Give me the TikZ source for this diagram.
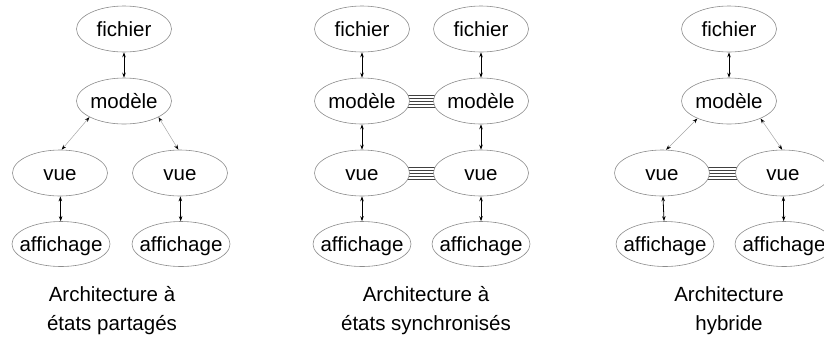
\documentclass[tikz,border=0pt]{standalone}
\usepackage{fontspec}
\setmainfont{Liberation Sans}
\usetikzlibrary{shapes.geometric,arrows.meta,backgrounds}

% word set at the centre of an ellipse whose size is fixed by the style
\newcommand{\word}[1]{\smash{\raisebox{-0.36em}{\makebox[0pt]{#1}}}}

\tikzset{
  comp/.style={ellipse, draw=black!45, line width=0.6pt, fill=white,
    minimum width=95pt, minimum height=46pt, inner sep=0pt,
    font=\fontsize{20.5}{24}\selectfont},
  wide/.style={comp, minimum width=98pt, minimum height=45pt},
  link/.style={{Stealth[length=5pt,width=3.5pt]}-{Stealth[length=5pt,width=3.5pt]},
    line width=0.8pt, black},
  slant/.style={{Stealth[length=5pt,width=3.5pt,black]}-{Stealth[length=5pt,width=3.5pt,black]},
    line width=0.5pt, black!35},
  syncline/.style={line width=0.6pt, black!75},
  caption/.style={align=center, font=\fontsize{20.5}{29}\selectfont}
}

% five parallel lines joining two components
\newcommand{\syncbar}[2]{%
  \begin{scope}[on background layer]
    \foreach \d in {-6,-3,0,3,6}
      \draw[syncline] ([yshift=\d pt]#1.center) -- ([yshift=\d pt]#2.center);
  \end{scope}}

\begin{document}
\begin{tikzpicture}[x=1pt,y=-1pt]
\useasboundingbox (0,0) rectangle (824,341);

% shared-state architecture
\node[comp] (af) at (124,29) {\word{fichier}};
\node[comp] (am) at (124,101) {\word{modèle}};
\node[comp] (av1) at (60,173) {\word{vue}};
\node[comp] (av2) at (180,173) {\word{vue}};
\node[wide] (aa1) at (61,244) {\word{affichage}};
\node[wide] (aa2) at (181,244) {\word{affichage}};
\draw[link] (af) -- (am);
\draw[slant] (am.205) -- (av1.86);
\draw[slant] (am.335) -- (av2.94);
\draw[link] (av1) -- (aa1);
\draw[link] (av2) -- (aa2);
\node[caption] (acap) at (112,311) {Architecture à\\états partagés};

% synchronised-state architecture
\node[comp] (bf1) at (362,29) {\word{fichier}};
\node[comp] (bf2) at (481,29) {\word{fichier}};
\node[comp] (bm1) at (362,101) {\word{modèle}};
\node[comp] (bm2) at (481,101) {\word{modèle}};
\node[comp] (bv1) at (362,173) {\word{vue}};
\node[comp] (bv2) at (481,173) {\word{vue}};
\node[wide] (ba1) at (362,244) {\word{affichage}};
\node[wide] (ba2) at (481,244) {\word{affichage}};
\draw[link] (bf1) -- (bm1);
\draw[link] (bf2) -- (bm2);
\draw[link] (bm1) -- (bv1);
\draw[link] (bm2) -- (bv2);
\draw[link] (bv1) -- (ba1);
\draw[link] (bv2) -- (ba2);
\syncbar{bm1}{bm2}
\syncbar{bv1}{bv2}
\node[caption] (bcap) at (426,311) {Architecture à\\états synchronisés};

% hybrid architecture
\node[comp] (cf) at (729,29) {\word{fichier}};
\node[comp] (cm) at (729,101) {\word{modèle}};
\node[comp] (cv1) at (662,173) {\word{vue}};
\node[comp] (cv2) at (783,173) {\word{vue}};
\node[wide] (ca1) at (665,244) {\word{affichage}};
\node[wide] (ca2) at (784,244) {\word{affichage}};
\draw[link] (cf) -- (cm);
\draw[slant] (cm.209) -- (cv1.80);
\draw[slant] (cm.331) -- (cv2.92);
\draw[link] (cv1) -- (ca1);
\draw[link] (cv2) -- (ca2);
\syncbar{cv1}{cv2}
\node[caption] (ccap) at (729,311) {Architecture\\hybride};
\end{tikzpicture}
\end{document}
